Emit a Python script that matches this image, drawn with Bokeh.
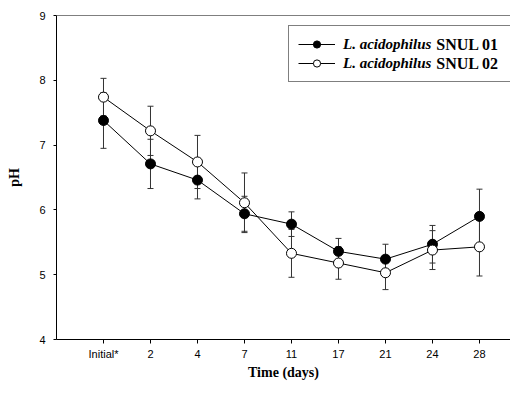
from bokeh.plotting import figure
from bokeh.models import (ColumnDataSource, Whisker, TeeHead, Legend, LegendItem,
                          Label, FixedTicker, Span, Range1d)
from bokeh.embed import file_html
from bokeh.resources import INLINE

days = ["Initial*", "2", "4", "7", "11", "17", "21", "24", "28"]
ph_01 = [7.38, 6.71, 6.46, 5.94, 5.78, 5.36, 5.24, 5.47, 5.90]
err_01 = [0.43, 0.38, 0.29, 0.27, 0.19, 0.20, 0.23, 0.29, 0.42]
ph_02 = [7.74, 7.22, 6.74, 6.11, 5.33, 5.18, 5.03, 5.38, 5.43]
err_02 = [0.29, 0.38, 0.41, 0.46, 0.37, 0.25, 0.26, 0.30, 0.45]
y_ticks = [4, 5, 6, 7, 8, 9]
strain_ids = ["SNUL 01", "SNUL 02"]

xs = list(range(len(days)))

p = figure(width=510, height=382, output_backend="svg", toolbar_location=None,
           x_range=Range1d(-1, 8.66), y_range=Range1d(4, 9),
           min_border_left=56, min_border_right=0, min_border_top=15,
           min_border_bottom=40)
p.background_fill_color = "white"
p.border_fill_color = "white"
p.outline_line_color = None
p.grid.visible = False

src1 = ColumnDataSource(dict(x=xs, y=ph_01,
                             upper=[v + e for v, e in zip(ph_01, err_01)],
                             lower=[v - e for v, e in zip(ph_01, err_01)]))
src2 = ColumnDataSource(dict(x=xs, y=ph_02,
                             upper=[v + e for v, e in zip(ph_02, err_02)],
                             lower=[v - e for v, e in zip(ph_02, err_02)]))

for src in (src1, src2):
    w = Whisker(source=src, base="x", upper="upper", lower="lower",
                line_color="#333333", line_width=1,
                upper_head=TeeHead(size=6, line_color="#333333", line_width=1),
                lower_head=TeeHead(size=6, line_color="#333333", line_width=1))
    p.add_layout(w)

l1 = p.line("x", "y", source=src1, line_color="black", line_width=1)
s1 = p.scatter("x", "y", source=src1, size=10, fill_color="black", line_color="black")
l2 = p.line("x", "y", source=src2, line_color="black", line_width=1)
s2 = p.scatter("x", "y", source=src2, size=10, fill_color="white", line_color="black",
               line_width=1)

p.add_layout(Span(location=9, dimension="width", line_color="black", line_width=1))

# axes
p.xaxis.ticker = FixedTicker(ticks=xs)
p.xaxis.major_label_overrides = {i: d for i, d in enumerate(days)}
p.yaxis.ticker = FixedTicker(ticks=y_ticks)
for ax in (p.xaxis[0], p.yaxis[0]):
    ax.minor_tick_line_color = None
    ax.major_tick_in = 0
    ax.axis_line_color = "black"
    ax.major_tick_line_color = "black"
    ax.major_label_text_font = "Liberation Sans"
    ax.major_label_text_font_size = "11px"
    ax.major_label_text_color = "black"
    ax.axis_label_text_font = "Liberation Serif"
    ax.axis_label_text_font_style = "bold"
    ax.axis_label_text_font_size = "14px"
    ax.axis_label_text_color = "black"
p.xaxis.major_tick_out = 4
p.yaxis.major_tick_out = 3
p.xaxis.major_label_standoff = 4
p.yaxis.major_label_standoff = 8
p.xaxis.axis_label = "Time (days)"
p.yaxis.axis_label = "pH"
p.xaxis.axis_label_standoff = 2
p.yaxis.axis_label_standoff = 14

legend = Legend(items=[LegendItem(label="L. acidophilus", renderers=[l1, s1]),
                       LegendItem(label="L. acidophilus", renderers=[l2, s2])],
                location=(232, 257), margin=0, padding=9, spacing=1,
                glyph_width=37, glyph_height=18, label_height=18, label_width=174,
                label_standoff=8,
                label_text_font="Liberation Serif", label_text_font_style="bold italic",
                label_text_font_size="15px", label_text_color="black",
                border_line_color="black", border_line_width=1,
                background_fill_alpha=0)
p.add_layout(legend)

# upright strain ids after the italic species name (positioned in data space)
for txt, yy in zip(strain_ids, (8.55, 8.26)):
    p.add_layout(Label(x=7.08, y=yy, text=txt,
                       text_font="Liberation Serif", text_font_style="bold",
                       text_font_size="16px", text_baseline="middle",
                       text_color="black"))

open("out.html", "w").write(file_html(p, INLINE))
